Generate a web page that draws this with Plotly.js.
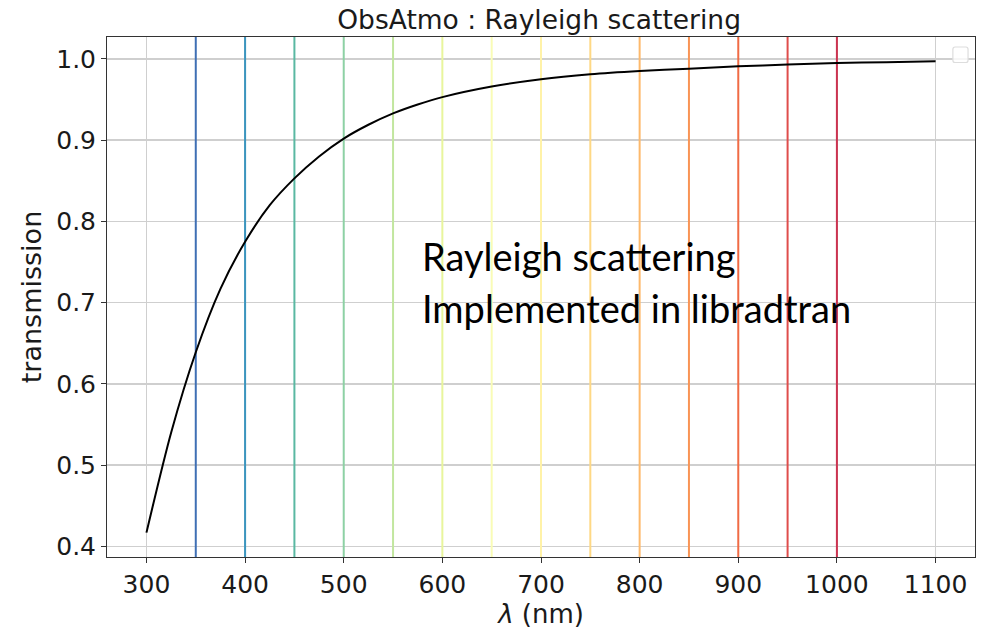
<!DOCTYPE html>
<html>
<head>
<meta charset="utf-8">
<script src="https://cdn.plot.ly/plotly-3.0.1.min.js"></script>
<style>html,body{margin:0;padding:0;background:#fff;}#chart{width:982px;height:630px;}</style>
</head>
<body>
<div id="chart"></div>
<script>
// transmission curve
const wavelength = [300, 325, 350, 375, 400, 425, 450, 475, 500, 525, 550, 575, 600, 650, 700, 750, 800, 850, 900, 950, 1000, 1050, 1100];
const transmission = [0.417, 0.540, 0.639, 0.717, 0.775, 0.820, 0.853, 0.880, 0.902, 0.919, 0.933, 0.944, 0.953, 0.966, 0.975, 0.981, 0.985, 0.988, 0.991, 0.993, 0.995, 0.996, 0.997];

// vertical marker wavelengths and their colours
const markerWl = [350, 400, 450, 500, 550, 600, 650, 700, 750, 800, 850, 900, 950, 1000];
const markerColors = ['#3f6fb4', '#3a95bf', '#5ab8a2', '#8dd1a4', '#c2e69f', '#e8f59c', '#f9fcb6',
                      '#fff2a8', '#fed885', '#fdb96b', '#f99455', '#f06b45', '#df4d4b', '#cc3350'];

const xTicks = [300, 400, 500, 600, 700, 800, 900, 1000, 1100];
const yTicks = [0.4, 0.5, 0.6, 0.7, 0.8, 0.9, 1.0];
const xRange = [260, 1140];
const yRange = [0.387, 1.027];

const titleText = 'ObsAtmo : Rayleigh scattering';
const xLabel = '<i>λ</i> (nm)';
const yLabel = 'transmission';
const noteLines = ['Rayleigh scattering', 'Implemented in libradtran'];

const data = markerWl.map((w, i) => ({
  x: [w, w], y: [yRange[0] - 0.05, yRange[1] + 0.05], type: 'scatter', mode: 'lines',
  line: {color: markerColors[i], width: 2}, hoverinfo: 'skip', showlegend: false, cliponaxis: true
}));
data.push({
  x: wavelength, y: transmission, type: 'scatter', mode: 'lines',
  line: {color: '#000000', width: 2, shape: 'spline', smoothing: 0.8},
  hoverinfo: 'x+y', showlegend: false
});

// empty legend box (top right)
const shapes = [{
  type: 'path', xref: 'paper', yref: 'paper',
  path: 'M 0.9770 0.9808 L 0.9895 0.9808 Q 0.9920 0.9808 0.9920 0.9760 L 0.9920 0.9560 Q 0.9920 0.9510 0.9895 0.9510 L 0.9770 0.9510 Q 0.9745 0.9510 0.9745 0.9560 L 0.9745 0.9760 Q 0.9745 0.9808 0.9770 0.9808 Z',
  line: {color: '#dddddd', width: 1.2}, fillcolor: 'rgba(255,255,255,0.8)', layer: 'above'
}];

const font = 'DejaVu Sans, sans-serif';

const layout = {
  width: 982, height: 630,
  margin: {l: 107, r: 7, t: 37, b: 73},
  paper_bgcolor: '#ffffff', plot_bgcolor: '#ffffff',
  showlegend: false,
  title: {text: titleText, font: {family: font, size: 26.5, color: '#1a1a1a'},
          x: 0.549, xanchor: 'center', yref: 'container', y: 0.968, yanchor: 'middle'},
  xaxis: {
    range: xRange, tickmode: 'array', tickvals: xTicks, ticktext: xTicks.map(String),
    showgrid: true, gridcolor: '#cfcfcf', gridwidth: 1.5, zeroline: false,
    showline: true, linecolor: '#333333', linewidth: 1, mirror: true,
    ticks: 'outside', ticklen: 5, tickcolor: '#333333',
    tickfont: {family: font, size: 25, color: '#1a1a1a'},
    title: {text: xLabel, font: {family: font, size: 26, color: '#1a1a1a'}, standoff: 0}
  },
  yaxis: {
    range: yRange, tickmode: 'array', tickvals: yTicks, ticktext: yTicks.map(v => v.toFixed(1)),
    showgrid: true, gridcolor: '#cfcfcf', gridwidth: 1.5, zeroline: false,
    showline: true, linecolor: '#333333', linewidth: 1, mirror: true,
    ticks: 'outside', ticklen: 5, tickcolor: '#333333',
    tickfont: {family: font, size: 25, color: '#1a1a1a'},
    title: {text: yLabel, font: {family: font, size: 27, color: '#1a1a1a'}, standoff: 6}
  },
  shapes: shapes,
  annotations: [
    {text: noteLines[0], xref: 'x', yref: 'y', x: 577, y: 0.757, xanchor: 'left', yanchor: 'middle',
     showarrow: false, font: {family: 'Lato, sans-serif', size: 38, color: '#000000'}},
    {text: noteLines[1], xref: 'x', yref: 'y', x: 577, y: 0.694, xanchor: 'left', yanchor: 'middle',
     showarrow: false, font: {family: 'Lato, sans-serif', size: 38, color: '#000000'}}
  ]
};

Plotly.newPlot('chart', data, layout, {displayModeBar: false, staticPlot: true});
</script>
</body>
</html>
